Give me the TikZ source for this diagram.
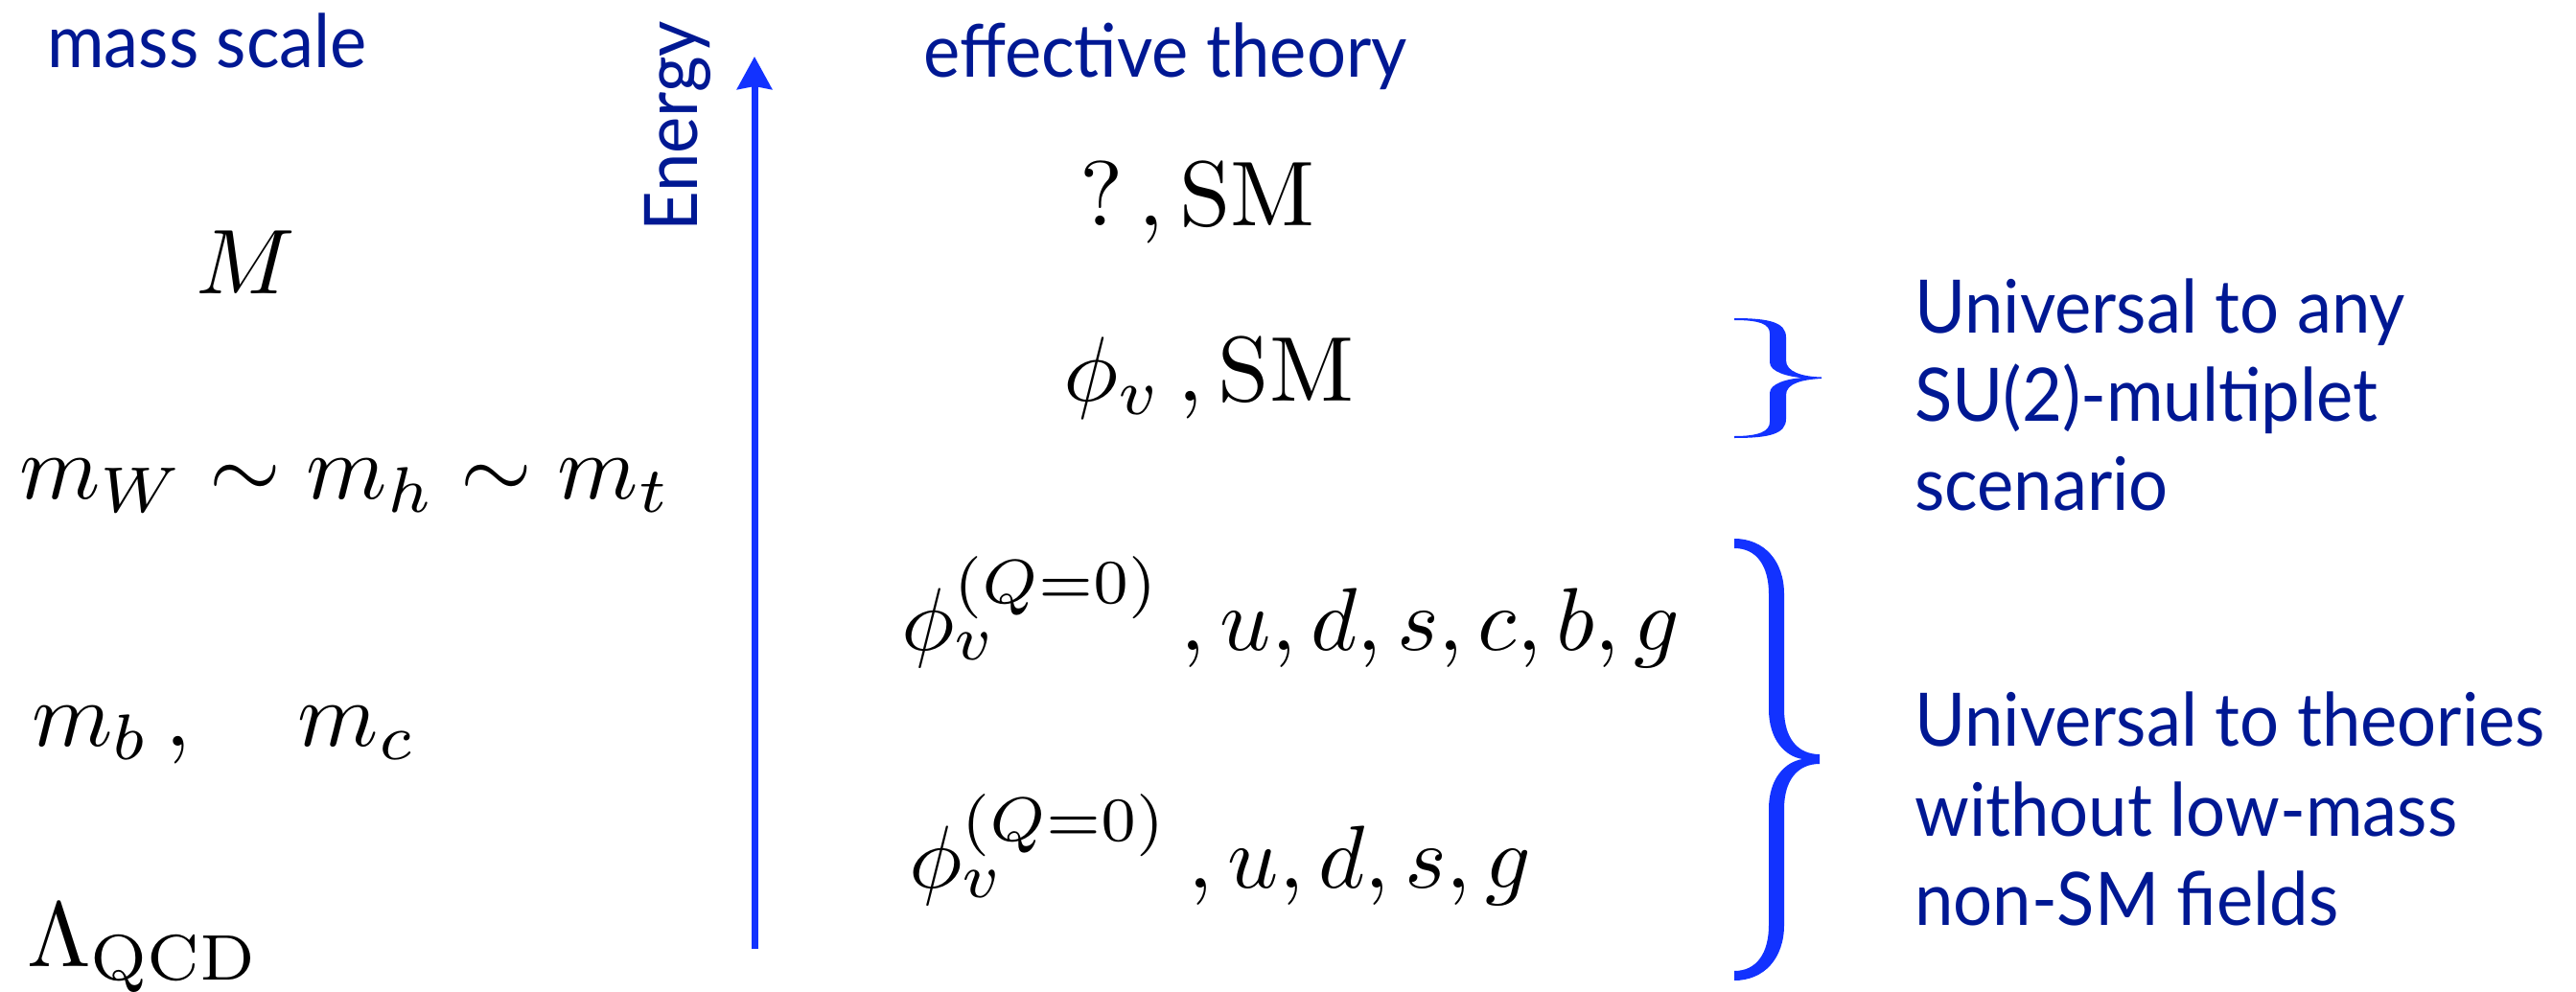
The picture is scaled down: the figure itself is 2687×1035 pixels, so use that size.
\documentclass[tikz,border=0pt]{standalone}
\usepackage{graphicx}
\usepackage{amsmath}
\usepackage{fontspec}
\newfontfamily\gillfont[FakeStretch=0.94]{Lato}
\usetikzlibrary{arrows.meta}
\definecolor{labelblue}{RGB}{0,24,147}
\definecolor{linkblue}{RGB}{18,50,255}
\newcommand{\bigmath}[1]{\scalebox{9.6}{$#1$}}
\newcommand{\rowmath}[1]{\scalebox{9.3}{$#1$}}
\tikzset{
  bluelabel/.style={font=\gillfont\fontsize{77}{92}\selectfont, text=labelblue, inner sep=0pt, anchor=base west},
  mathlabel/.style={text=black, inner sep=0pt, anchor=base west},
  bracefill/.style={fill=linkblue, draw=none},
  energyarrow/.style={draw=linkblue, line width=7pt, -{Stealth[length=34pt,width=36pt,inset=3pt]}}
}
\begin{document}
\begin{tikzpicture}[x=1pt,y=-1pt]
\useasboundingbox (0,0) rectangle (2687,1035);
% headings
\node[bluelabel] (mass) at (49,71) {mass scale};
\node[bluelabel, rotate=90] (energy) at (727,242) {Energy};
\node[bluelabel] (eff) at (963,81) {effective theory};
% energy axis
\coordinate (ebot) at (787,990);
\coordinate (etop) at (787,59);
\draw[energyarrow] (ebot) -- (etop);
% mass scales
\node[mathlabel] (mM) at (204,306) {\bigmath{M}};
\node[mathlabel] (mW) at (20,520) {\bigmath{m_W\sim m_h\sim m_t}};
\node[mathlabel] (mb) at (33,778) {\bigmath{m_b\,,\quad m_c}};
\node[mathlabel] (lqcd) at (28,1008) {\bigmath{\Lambda_{\mathrm{QCD}}}};
% effective theories
\node[mathlabel] (t1) at (1126,236) {\bigmath{?\,,\mathrm{SM}}};
\node[mathlabel] (t2) at (1109,418) {\bigmath{\phi_v\,,\mathrm{SM}}};
\node[mathlabel] (t3) at (940,678) {\rowmath{\phi_v^{(Q=0)}\:, u, d, s, c, b, g}};
\node[mathlabel] (t4) at (948,926) {\rowmath{\phi_v^{(Q=0)}\:, u, d, s, g}};
% small brace
\path[bracefill] (1809,332) .. controls (1845,332) and (1863,336) .. (1863,352)
  -- (1863,376) .. controls (1863,388) and (1880,393) .. (1900,393.5)
  -- (1900,395) .. controls (1880,396) and (1863,400) .. (1863,412)
  -- (1863,437) .. controls (1863,453) and (1845,457) .. (1809,457)
  -- (1809,455) .. controls (1835,455) and (1846,450) .. (1846,440)
  -- (1846,410) .. controls (1846,400) and (1865,395) .. (1880,394.2)
  .. controls (1865,393) and (1846,388) .. (1846,378)
  -- (1846,348) .. controls (1846,338) and (1835,334) .. (1809,334) -- cycle;
% big brace
\path[bracefill] (1809,562) .. controls (1840,562) and (1861,585) .. (1861,620)
  -- (1861,740) .. controls (1861,770) and (1875,787) .. (1898,787)
  -- (1898,797) .. controls (1875,797) and (1861,814) .. (1861,844)
  -- (1861,965) .. controls (1861,1000) and (1840,1023) .. (1809,1023)
  -- (1809,1013) .. controls (1832,1013) and (1845,995) .. (1845,965)
  -- (1845,844) .. controls (1845,812) and (1862,795) .. (1880,792)
  .. controls (1862,789) and (1845,772) .. (1845,740)
  -- (1845,620) .. controls (1845,590) and (1832,572) .. (1809,572) -- cycle;
% notes
\node[bluelabel] (u1) at (1997,347) {Universal to any};
\node[bluelabel] (u2) at (1997,439) {SU(2)-multiplet};
\node[bluelabel] (u3) at (1997,532) {scenario};
\node[bluelabel] (w1) at (1997,778) {Universal to theories};
\node[bluelabel] (w2) at (1997,872) {without low-mass};
\node[bluelabel] (w3) at (1997,965) {non-SM fields};
\end{tikzpicture}
\end{document}
